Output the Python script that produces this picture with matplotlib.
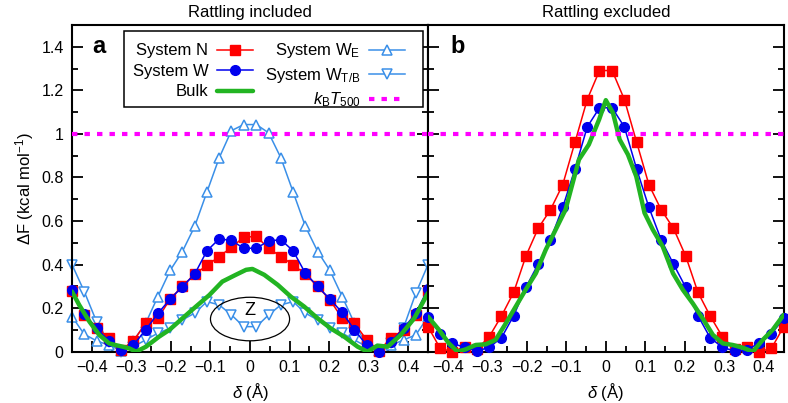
import matplotlib
matplotlib.use("Agg")
import matplotlib.pyplot as plt
from matplotlib.patches import Ellipse, Rectangle
from matplotlib.ticker import MultipleLocator, FuncFormatter

plt.rcParams['font.family'] = ['Liberation Sans', 'DejaVu Sans']
plt.rcParams['mathtext.fontset'] = 'custom'
plt.rcParams['mathtext.rm'] = 'Liberation Sans'
plt.rcParams['mathtext.it'] = 'Liberation Sans:italic'
plt.rcParams['mathtext.bf'] = 'Liberation Sans:bold'

# ---------------- data ----------------
delta = [-0.45, -0.419, -0.388, -0.357, -0.326, -0.295, -0.264, -0.233, -0.202, -0.171,
         -0.140, -0.109, -0.078, -0.047, -0.016, 0.016, 0.047, 0.078, 0.109, 0.140,
         0.171, 0.202, 0.233, 0.264, 0.295, 0.326, 0.357, 0.388, 0.419, 0.45]

# Panel a: rattling included
sysN_a = [0.28, 0.169, 0.107, 0.064, 0.008, 0.049, 0.13, 0.153, 0.242, 0.30,
          0.356, 0.396, 0.437, 0.479, 0.526, 0.529, 0.475, 0.437, 0.399, 0.356,
          0.30, 0.238, 0.153, 0.13, 0.054, 0.005, 0.064, 0.10, 0.169, 0.28]
sysW_a = [0.284, 0.175, 0.107, 0.05, 0.008, 0.03, 0.10, 0.176, 0.241, 0.299,
          0.356, 0.463, 0.518, 0.511, 0.475, 0.475, 0.509, 0.514, 0.463, 0.36,
          0.30, 0.241, 0.18, 0.10, 0.03, 0.0, 0.046, 0.107, 0.176, 0.29]
sysWE_a = [0.161, 0.08, 0.05, 0.03, 0.005, 0.05, 0.13, 0.253, 0.373, 0.46,
           0.575, 0.733, 0.89, 1.015, 1.043, 1.043, 1.005, 0.89, 0.733, 0.575,
           0.46, 0.373, 0.253, 0.13, 0.03, 0.003, 0.03, 0.054, 0.077, 0.161]
sysWTB_a = [0.40, 0.276, 0.138, 0.046, 0.0, 0.023, 0.054, 0.085, 0.108, 0.146,
            0.177, 0.23, 0.215, 0.169, 0.115, 0.115, 0.169, 0.215, 0.23, 0.177,
            0.146, 0.108, 0.085, 0.054, 0.023, 0.0, 0.04, 0.11, 0.268, 0.40]
bulk_a_x = [-0.45, -0.432, -0.406, -0.381, -0.356, -0.339, -0.322, -0.305, -0.288, -0.263,
            -0.23, -0.204, -0.171, -0.137, -0.103, -0.07, -0.036, -0.01, 0.006, 0.036,
            0.07, 0.103, 0.137, 0.171, 0.204, 0.238, 0.272, 0.297, 0.322, 0.348,
            0.381, 0.415, 0.45]
bulk_a_y = [0.276, 0.215, 0.138, 0.077, 0.038, 0.03, 0.023, 0.015, 0.0, 0.023,
            0.069, 0.10, 0.153, 0.207, 0.26, 0.322, 0.353, 0.376, 0.38, 0.353,
            0.307, 0.253, 0.207, 0.153, 0.107, 0.069, 0.023, 0.0, 0.028, 0.023,
            0.077, 0.153, 0.27]

# Panel b: rattling excluded
sysN_b = [0.115, 0.015, 0.0, 0.023, 0.011, 0.069, 0.164, 0.273, 0.44, 0.567,
          0.652, 0.767, 0.962, 1.158, 1.291, 1.291, 1.158, 0.962, 0.767, 0.652,
          0.567, 0.44, 0.273, 0.164, 0.069, 0.011, 0.02, 0.0, 0.015, 0.115]
sysW_b = [0.161, 0.081, 0.038, 0.02, 0.003, 0.02, 0.064, 0.166, 0.296, 0.403,
          0.514, 0.663, 0.839, 1.032, 1.12, 1.12, 1.032, 0.839, 0.663, 0.514,
          0.403, 0.296, 0.166, 0.064, 0.02, 0.003, 0.01, 0.038, 0.081, 0.153]
bulk_b_x = [-0.45, -0.422, -0.397, -0.375, -0.354, -0.329, -0.304, -0.279, -0.253, -0.228,
            -0.203, -0.177, -0.152, -0.127, -0.102, -0.085, -0.068, -0.043, -0.017, 0.0,
            0.018, 0.035, 0.056, 0.077, 0.098, 0.119, 0.144, 0.17, 0.195, 0.22,
            0.245, 0.271, 0.296, 0.321, 0.347, 0.372, 0.397, 0.422, 0.45]
bulk_b_y = [0.161, 0.10, 0.038, 0.0, 0.011, 0.031, 0.034, 0.054, 0.13, 0.207,
            0.284, 0.36, 0.468, 0.56, 0.652, 0.767, 0.882, 0.951, 1.066, 1.155,
            1.097, 0.974, 0.905, 0.805, 0.637, 0.56, 0.483, 0.36, 0.284, 0.222,
            0.153, 0.077, 0.038, 0.031, 0.018, 0.0, 0.054, 0.10, 0.169]

kT500 = 1.0

# ---------------- style ----------------
RED = '#ff0000'
BLUE = '#0000ee'
LBLUE = '#3a8fe8'
GREEN = '#22b422'
MAG = '#ff00ff'

fig = plt.figure(figsize=(7.88, 4.03), dpi=100)
ax1 = fig.add_axes([0.0914, 0.1273, 0.4518, 0.8106])
ax2 = fig.add_axes([0.5431, 0.1273, 0.4514, 0.8106])

def fmt(v, pos):
    s = '%g' % round(v, 3)
    if s == '-0':
        s = '0'
    return s.replace('-', '\u2212')

for ax in (ax1, ax2):
    ax.set_xlim(-0.45, 0.45)
    ax.set_ylim(0, 1.5)
    ax.xaxis.set_major_locator(MultipleLocator(0.1))
    ax.xaxis.set_minor_locator(MultipleLocator(0.05))
    ax.yaxis.set_major_locator(MultipleLocator(0.2))
    ax.yaxis.set_minor_locator(MultipleLocator(0.1))
    ax.xaxis.set_major_formatter(FuncFormatter(fmt))
    ax.yaxis.set_major_formatter(FuncFormatter(fmt))
    ax.tick_params(which='both', direction='in', top=False, right=True, width=1.3,
                   labelsize=11.5, pad=6)
    ax.tick_params(which='major', length=8)
    ax.tick_params(which='minor', length=4.5)
    for sp in ax.spines.values():
        sp.set_linewidth(1.5)
    ax.set_xlabel('$\\delta$ (\u00c5)', fontsize=12, labelpad=4)
    ax.axhline(kT500, color=MAG, lw=3, dashes=(1.3, 1.7), zorder=6)

ax2.tick_params(labelleft=False)

mk = dict(clip_on=False)
# Panel a
l_we, = ax1.plot(delta, sysWE_a, color=LBLUE, lw=1.1, marker='^', ms=7,
                 mfc='white', mec=LBLUE, mew=1.1, zorder=2, **mk)
l_wtb, = ax1.plot(delta, sysWTB_a, color=LBLUE, lw=1.1, marker='v', ms=7,
                  mfc='white', mec=LBLUE, mew=1.1, zorder=2, **mk)
l_n, = ax1.plot(delta, sysN_a, color=RED, lw=1.1, marker='s', ms=6.5, mec=RED,
                zorder=3, **mk)
l_w, = ax1.plot(delta, sysW_a, color=BLUE, lw=1.1, marker='o', ms=7, mec=BLUE,
                zorder=4, **mk)
l_b, = ax1.plot(bulk_a_x, bulk_a_y, color=GREEN, lw=3.2, zorder=5, solid_capstyle='round')
l_k, = ax1.plot([], [], color=MAG, lw=3, dashes=(1.3, 1.7))

ax1.add_patch(Ellipse((0.0, 0.15), 0.2, 0.2, fill=False, ec='black', lw=0.9, zorder=7))
ax1.text(0.0, 0.19, 'Z', ha='center', va='center', fontsize=13, zorder=8)

# Panel b
ax2.plot(delta, sysN_b, color=RED, lw=1.1, marker='s', ms=6.5, mec=RED, zorder=3, **mk)
ax2.plot(delta, sysW_b, color=BLUE, lw=1.1, marker='o', ms=7, mec=BLUE, zorder=4, **mk)
ax2.plot(bulk_b_x, bulk_b_y, color=GREEN, lw=3.2, zorder=5, solid_capstyle='round')

ax1.set_ylabel('\u0394F (kcal mol$^{-1}$)', fontsize=12, labelpad=4)
ax1.set_title('Rattling included', fontsize=12, pad=6)
ax2.set_title('Rattling excluded', fontsize=12, pad=6)

ax1.text(0.058, 0.915, 'a', transform=ax1.transAxes, fontsize=17, fontweight='bold',
         ha='left', va='baseline')
ax2.text(0.062, 0.915, 'b', transform=ax2.transAxes, fontsize=17, fontweight='bold',
         ha='left', va='baseline')

# legend frame drawn as a rectangle for exact placement
ax1.add_patch(Rectangle((0.146, 0.749), 0.840, 0.233, transform=ax1.transAxes,
                        fc='white', ec='black', lw=1.1, zorder=9))

handles = [l_n, l_w, l_b, l_we, l_wtb, l_k]
labels = ['System N', 'System W', 'Bulk', 'System W$_\\mathrm{E}$',
          'System W$_\\mathrm{T/B}$', '$k_\\mathrm{B}T_{500}$']
leg = ax1.legend(handles, labels, ncol=2, markerfirst=False, loc='upper left',
                 bbox_to_anchor=(0.170, 0.950), fontsize=12, frameon=False,
                 handlelength=2.2, handletextpad=0.5, columnspacing=0.7,
                 labelspacing=0.33, borderpad=0, borderaxespad=0)
leg.set_zorder(10)

fig.savefig('out.png', dpi=100)
